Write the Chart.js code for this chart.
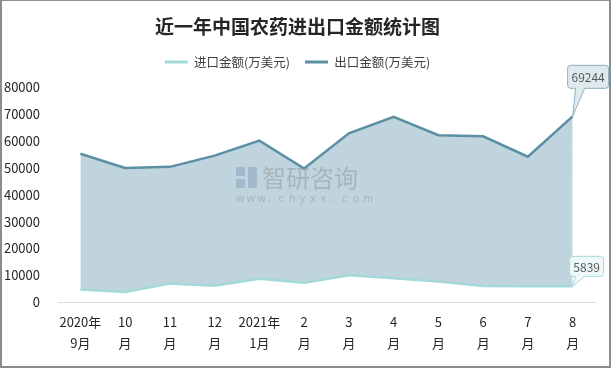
<!DOCTYPE html>
<html>
<head>
<meta charset="utf-8">
<script src="https://cdn.jsdelivr.net/npm/chart.js@4.4.1/dist/chart.umd.min.js"></script>
<style>
  html, body { margin: 0; padding: 0; background: #fff; }
  #wrap { position: relative; width: 611px; height: 370px; }
  #frame { position: absolute; left: 0; top: 0; width: 607px; height: 365px; border: 2px solid #8c8c8c; border-top-width: 1px; pointer-events: none; }
</style>
</head>
<body>
<div id="wrap">
  <canvas id="trade" width="611" height="370"></canvas>
  <div id="frame"></div>
</div>
<script>
// months (two-line labels)
var months = [
  ['2020年', '9月'], ['10', '月'], ['11', '月'], ['12', '月'], ['2021年', '1月'],
  ['2', '月'], ['3', '月'], ['4', '月'], ['5', '月'], ['6', '月'], ['7', '月'], ['8', '月']
];
// 万美元
var importValues = [4700, 3700, 6900, 6100, 8700, 7200, 10000, 8900, 7600, 6000, 5900, 5839];
var exportValues = [55300, 50000, 50400, 54600, 60200, 49800, 62900, 69100, 62200, 61800, 54200, 69244];
var yTicks = [0, 10000, 20000, 30000, 40000, 50000, 60000, 70000, 80000];

const FONT = '"Noto Sans CJK SC", "Noto Sans", sans-serif';

// callouts on the last point + watermark
const extras = {
  id: 'extras',
  afterDatasetsDraw(chart) {
    const ctx = chart.ctx;

    // watermark
    ctx.save();
    ctx.globalAlpha = 0.45;
    ctx.fillStyle = '#7f97b6';
    ctx.fillRect(236, 167, 9, 9);
    ctx.fillRect(236, 179, 9, 9);
    ctx.fillRect(248, 167, 9, 21);
    ctx.fillStyle = '#8a8f94';
    ctx.font = '24px ' + FONT;
    ctx.textBaseline = 'middle';
    ctx.textAlign = 'left';
    ctx.fillText('智研咨询', 262, 178);
    ctx.font = '11px ' + FONT;
    const w = 'www.chyxx.com';
    for (let i = 0; i < w.length; i++) {
      ctx.fillText(w[i], 236 + i * 10.6, 198);
    }
    ctx.restore();

    const boxes = [
      { ds: 1, dx: -5, dy: -51, w: 41, h: 23, fill: '#dfeaef', stroke: '#8fb0bf' },
      { ds: 0, dx: -3, dy: -30, w: 34, h: 20, fill: '#eef8f8', stroke: '#a6dbda' }
    ];
    boxes.forEach(function(b) {
      const meta = chart.getDatasetMeta(b.ds);
      const last = meta.data[meta.data.length - 1];
      const px = last.x, py = last.y;
      const x = px + b.dx, y = py + b.dy;
      ctx.save();
      ctx.beginPath();
      ctx.moveTo(x + 3, y);
      ctx.lineTo(x + b.w - 3, y);
      ctx.quadraticCurveTo(x + b.w, y, x + b.w, y + 3);
      ctx.lineTo(x + b.w, y + b.h - 3);
      ctx.quadraticCurveTo(x + b.w, y + b.h, x + b.w - 3, y + b.h);
      ctx.lineTo(px + 12, y + b.h);
      ctx.lineTo(px, py);
      ctx.lineTo(px + 3, y + b.h);
      ctx.lineTo(x + 3, y + b.h);
      ctx.quadraticCurveTo(x, y + b.h, x, y + b.h - 3);
      ctx.lineTo(x, y + 3);
      ctx.quadraticCurveTo(x, y, x + 3, y);
      ctx.closePath();
      ctx.fillStyle = b.fill;
      ctx.fill();
      ctx.strokeStyle = b.stroke;
      ctx.lineWidth = 1;
      ctx.stroke();
      ctx.fillStyle = '#595959';
      ctx.font = '12px ' + FONT;
      ctx.textAlign = 'center';
      ctx.textBaseline = 'middle';
      const val = chart.data.datasets[b.ds].data[meta.data.length - 1];
      ctx.fillText(String(val), x + b.w / 2, y + b.h / 2 + 1);
      ctx.restore();
    });
  }
};

const ctxTrade = document.getElementById('trade');
new Chart(ctxTrade, {
  type: 'line',
  data: {
    labels: months,
    datasets: [{
      label: '进口金额(万美元)',
      data: importValues,
      borderColor: '#a3d9d8',
      backgroundColor: '#a3d9d8',
      borderWidth: 2.5,
      pointRadius: 0,
      tension: 0,
      fill: false
    }, {
      label: '出口金额(万美元)',
      data: exportValues,
      borderColor: '#5b8fa4',
      backgroundColor: 'rgba(166,195,208,0.72)',
      borderWidth: 2.5,
      pointRadius: 0,
      tension: 0,
      fill: '-1'
    }]
  },
  plugins: [extras],
  options: {
    responsive: false,
    animation: false,
    layout: { padding: { left: 0, right: 16, top: 0, bottom: 0 } },
    plugins: {
      title: {
        display: true,
        text: '近一年中国农药进出口金额统计图',
        color: '#262626',
        font: { family: FONT, size: 19, weight: 'bold' },
        padding: { top: 15, bottom: 3 }
      },
      // empty spacer under the legend
      subtitle: {
        display: true,
        text: '',
        weight: 500,
        font: { size: 1 },
        padding: { top: 0, bottom: 8 }
      },
      legend: {
        labels: {
          color: '#404040',
          font: { family: FONT, size: 12.5 },
          boxWidth: 23,
          boxHeight: 3,
          padding: 15,
          generateLabels: function(chart) {
            return chart.data.datasets.map(function(ds, i) {
              return {
                text: ds.label,
                fillStyle: ds.borderColor,
                strokeStyle: ds.borderColor,
                lineWidth: 0,
                fontColor: '#404040',
                datasetIndex: i
              };
            });
          }
        }
      },
      tooltip: { enabled: false }
    },
    scales: {
      x: {
        offset: true,
        grid: { display: false, drawTicks: false },
        border: { display: true, color: '#d9d9d9', width: 1 },
        ticks: {
          color: '#262626',
          padding: 10,
          maxRotation: 0,
          autoSkip: false,
          font: { family: FONT, size: 13, lineHeight: 1.6 }
        },
        afterFit: function(scale) { scale.height = 68; }
      },
      y: {
        min: 0,
        max: 80000,
        afterBuildTicks: function(scale) {
          scale.ticks = yTicks.map(function(v) { return { value: v }; });
        },
        grid: { display: false, drawTicks: false },
        border: { display: false },
        ticks: {
          color: '#262626',
          padding: 18,
          font: { family: FONT, size: 13 },
          callback: function(value) { return String(value); }
        },
        afterFit: function(scale) { scale.width = 58; }
      }
    }
  }
});
</script>
</body>
</html>
